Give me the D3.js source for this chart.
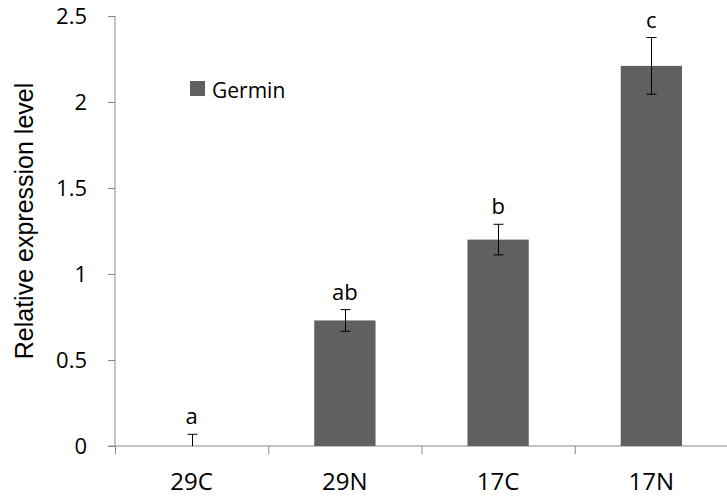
<!DOCTYPE html>
<html>
<head>
<meta charset="utf-8">
<script src="https://cdn.jsdelivr.net/npm/d3@7"></script>
<style>
  html, body { margin: 0; padding: 0; background: #fff; }
  svg { display: block; }
  text { font-family: "Open Sans", "DejaVu Sans", sans-serif; fill: #000; }
</style>
</head>
<body>
<svg id="chart" width="727" height="497"></svg>
<script>
// Germin relative expression per treatment
const categories = ["29C", "29N", "17C", "17N"];
const values = [0, 0.73, 1.2, 2.21];
const errors = [0.068, 0.063, 0.089, 0.165];
const letters = ["a", "ab", "b", "c"];
const yTicks = [0, 0.5, 1, 1.5, 2, 2.5];
const seriesName = "Germin";

const svg = d3.select("#chart");
const barColor = "#606060";
const axisColor = "#888888";

const x = d3.scaleBand()
  .domain(categories)
  .range([115, 728])
  .paddingInner(0.6)
  .paddingOuter(0.3);

const y = d3.scaleLinear()
  .domain([0, 2.5])
  .range([446, 16]);

// Y axis
const yAxis = svg.append("g")
  .attr("transform", `translate(${x.range()[0]},0)`)
  .call(d3.axisLeft(y).tickValues(yTicks).tickSize(7).tickPadding(21)
    .tickFormat(d3.format("~g")));
yAxis.select(".domain").attr("stroke", axisColor).attr("d", `M0,${y(2.5)}V${y(0)}`);
yAxis.selectAll(".tick line").attr("stroke", axisColor);
yAxis.selectAll(".tick text")
  .attr("font-size", 22)
  .attr("dy", "0.36em")
  .style("font-family", '"Open Sans", sans-serif');

// X axis: baseline with ticks at category boundaries
const xAxis = svg.append("g").attr("transform", `translate(0,${y(0)})`);
xAxis.append("line")
  .attr("x1", x.range()[0] - 7).attr("x2", x.range()[1])
  .attr("stroke", axisColor);
const half = (x.step() - x.bandwidth()) / 2;
xAxis.selectAll("line.tick")
  .data(categories)
  .join("line")
  .attr("class", "tick")
  .attr("x1", d => x(d) - half + 0.5)
  .attr("x2", d => x(d) - half + 0.5)
  .attr("y1", 0).attr("y2", 8)
  .attr("stroke", axisColor);
xAxis.selectAll("text.cat")
  .data(categories)
  .join("text")
  .attr("class", "cat")
  .attr("x", d => x(d) + x.bandwidth() / 2)
  .attr("y", 44)
  .attr("text-anchor", "middle")
  .attr("font-size", 24)
  .text(d => d);

// Bars
const data = categories.map((c, i) => ({ c, v: values[i], e: errors[i], l: letters[i] }));
svg.append("g").selectAll("rect")
  .data(data.filter(d => d.v > 0))
  .join("rect")
  .attr("x", d => x(d.c))
  .attr("y", d => y(d.v))
  .attr("width", x.bandwidth())
  .attr("height", d => y(0) - y(d.v))
  .attr("fill", barColor);

// Error bars
const eb = svg.append("g").attr("stroke", "#000").attr("stroke-width", 1);
data.forEach(d => {
  const cx = Math.round(x(d.c) + x.bandwidth() / 2) + 0.5;
  const top = y(d.v + d.e);
  const bot = Math.min(y(d.v - d.e), y(0));
  eb.append("line").attr("x1", cx).attr("x2", cx).attr("y1", top).attr("y2", bot);
  eb.append("line").attr("x1", cx - 5).attr("x2", cx + 5).attr("y1", top).attr("y2", top);
  if (d.v - d.e > 0) {
    eb.append("line").attr("x1", cx - 5).attr("x2", cx + 5).attr("y1", bot).attr("y2", bot);
  }
});

// Significance letters
svg.append("g").selectAll("text")
  .data(data)
  .join("text")
  .attr("x", d => x(d.c) + x.bandwidth() / 2)
  .attr("y", d => y(d.v + d.e) - 10)
  .attr("text-anchor", "middle")
  .attr("font-size", 22)
  .text(d => d.l);

// Legend
const legend = svg.append("g").attr("transform", "translate(190,81)");
legend.append("rect").attr("width", 15).attr("height", 15).attr("fill", barColor);
legend.append("text").attr("x", 22).attr("y", 16.5).attr("font-size", 21).text(seriesName);

// Y axis title
svg.append("text")
  .attr("transform", "translate(33,221) rotate(-90)")
  .attr("text-anchor", "middle")
  .attr("font-size", 25)
  .style("font-family", '"Liberation Sans", Arial, sans-serif')
  .text("Relative expression level");
</script>
</body>
</html>
